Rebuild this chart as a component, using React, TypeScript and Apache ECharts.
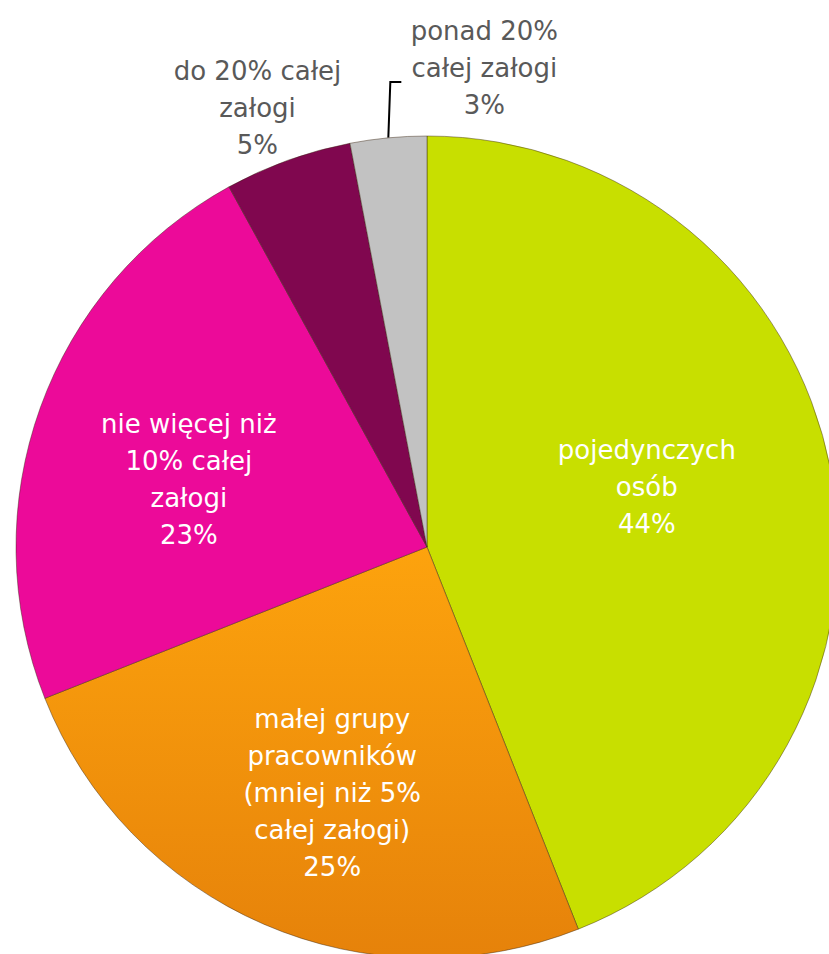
import React, { useEffect, useRef } from "react";
import * as echarts from "echarts";

// ---- data ----
const categories: string[] = [
  "pojedynczych\nosób",
  "małej grupy\npracowników\n(mniej niż 5%\ncałej załogi)",
  "nie więcej niż\n10% całej\nzałogi",
  "do 20% całej\nzałogi",
  "ponad 20%\ncałej załogi",
];
const values: number[] = [44, 25, 23, 5, 3];

// ---- styling / layout (kept separate from data) ----
const sliceColors: any[] = [
  "#c8df00",
  {
    type: "linear",
    x: 0,
    y: 0,
    x2: 0,
    y2: 1,
    colorStops: [
      { offset: 0, color: "#fda30d" },
      { offset: 1, color: "#e6820a" },
    ],
  },
  "#ec0a99",
  "#80074f",
  "#c2c2c2",
];
const insideLabel = [true, true, true, false, false];
const insideOffsets: number[][] = [
  [15, -21],
  [-12, 55],
  [-42, 3],
];
const FONT = "DejaVu Sans";

export default function App() {
  const ref = useRef<HTMLDivElement>(null);

  useEffect(() => {
    if (!ref.current) return;
    const chart = echarts.init(ref.current, undefined, { renderer: "svg" });

    const data = categories.map((name, i) => ({
      name,
      value: values[i],
      itemStyle: { color: sliceColors[i] },
      label: insideLabel[i]
        ? { position: "inside", color: "#ffffff" }
        : { position: "outside", color: "#595959" },
      labelLine: insideLabel[i]
        ? { show: false }
        : i === 4
        ? { show: true, length: 58, length2: 12, lineStyle: { color: "#000", width: 2 } }
        : { show: true, length: 60, length2: 0, lineStyle: { opacity: 0 } },
    }));

    chart.setOption({
      animation: false,
      backgroundColor: "#ffffff",
      series: [
        {
          type: "pie",
          center: [427, 547],
          radius: 411,
          startAngle: 90,
          clockwise: true,
          avoidLabelOverlap: false,
          percentPrecision: 0,
          itemStyle: { borderColor: "rgba(60,40,20,0.45)", borderWidth: 1 },
          label: {
            formatter: "{b}\n{d}%",
            fontFamily: FONT,
            fontSize: 26,
            lineHeight: 37,
            align: "center",
          },
          labelLayout: (p: any) => {
            const i = p.dataIndex;
            if (i === 4 && p.labelLinePoints) {
              const p0 = p.labelLinePoints[0];
              const p1 = [p0[0] + 2, p.labelLinePoints[1][1] + 2];
              const p2 = [p1[0] + 11, p1[1]];
              return {
                x: p2[0] + 83,
                y: p2[1] - 14,
                align: "center",
                verticalAlign: "middle",
                labelLinePoints: [p0, p1, p2],
              };
            }
            if (i === 3 && p.labelLinePoints) {
              const p1 = p.labelLinePoints[1];
              return { x: p1[0] - 10, y: p1[1] + 4, align: "center", verticalAlign: "middle" };
            }
            const off = insideOffsets[i] || [0, 0];
            return { dx: off[0], dy: off[1] };
          },
          data,
        },
      ],
    });

    return () => chart.dispose();
  }, []);

  return (
    <div
      ref={ref}
      style={{ position: "absolute", left: 0, top: 0, width: 829, height: 954 }}
    />
  );
}
